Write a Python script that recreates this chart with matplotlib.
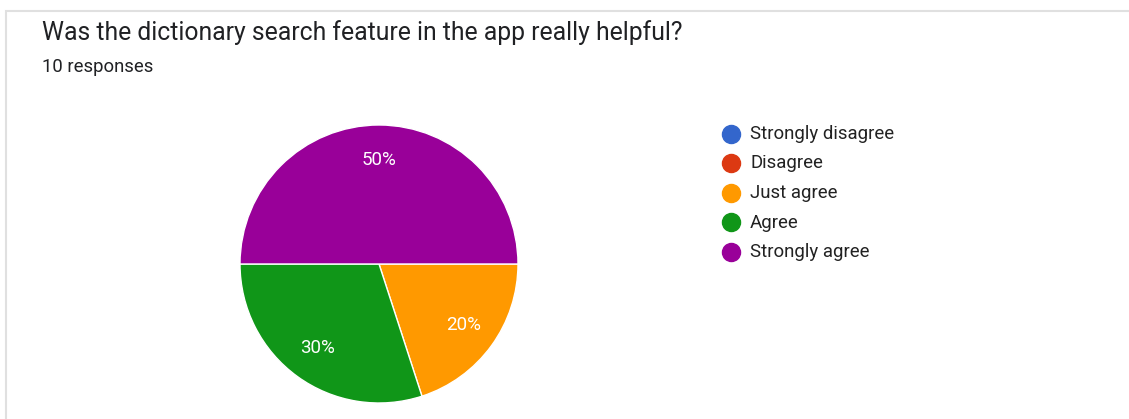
import matplotlib.pyplot as plt
from matplotlib.patches import Rectangle

plt.rcParams["font.family"] = ["Roboto", "DejaVu Sans"]

title = "Was the dictionary search feature in the app really helpful?"
subtitle = "10 responses"
categories = ["Strongly disagree", "Disagree", "Just agree", "Agree", "Strongly agree"]
counts = [0, 0, 2, 3, 5]
colors = ["#3366cc", "#dc3912", "#ff9900", "#109618", "#990099"]

W, H = 1129, 419
fig = plt.figure(figsize=(W / 100, H / 100), dpi=100)
fig.patch.set_facecolor("white")

# card outline (top and left edges visible)
fig.add_artist(Rectangle((6 / W, -0.1), 1.2, (H - 11) / H + 0.1, transform=fig.transFigure,
                         fill=False, edgecolor="#e0e0e0", linewidth=1.5))

fig.text(42 / W, 1 - 33 / H, title, fontsize=17.8, color="#202124", va="center")
fig.text(42 / W, 1 - 67 / H, subtitle, fontsize=13.3, color="#202124", va="center")

# pie: only non-empty answers get a wedge
cx, cy, r = 379, 264, 139
ax = fig.add_axes([(cx - r) / W, 1 - (cy + r) / H, 2 * r / W, 2 * r / H])
vals = [c for c in counts if c > 0]
cols = [col for c, col in zip(counts, colors) if c > 0]
wedges, texts, autotexts = ax.pie(
    vals, colors=cols, startangle=0, counterclock=False,
    autopct="%1.0f%%", pctdistance=0.75,
    wedgeprops=dict(edgecolor="white", linewidth=1),
    textprops=dict(color="white", fontsize=13.5),
)
ax.set_xlim(-1, 1)
ax.set_ylim(-1, 1)
ax.set_aspect("equal")

# legend
lx, ly0, step = 731, 134, 29.5
for i, (name, col) in enumerate(zip(categories, colors)):
    y = 1 - (ly0 + i * step) / H
    fig.add_artist(plt.Line2D([lx / W], [y], marker="o", markersize=13, color=col,
                              linestyle="none", transform=fig.transFigure))
    fig.text((lx + 19) / W, y, name, fontsize=13.4, color="#222222", va="center")

fig.savefig("out.png", dpi=100)
